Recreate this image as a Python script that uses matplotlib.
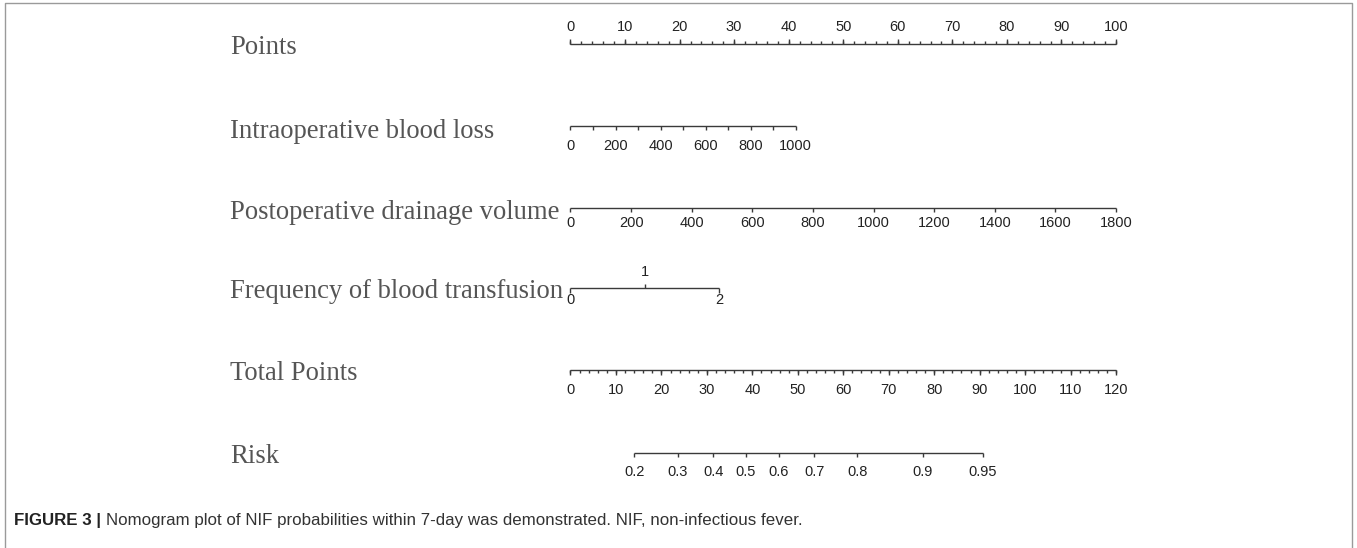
import numpy as np
import matplotlib
matplotlib.use('Agg')
import matplotlib.pyplot as plt
from matplotlib import font_manager
from matplotlib.transforms import blended_transform_factory

# 字型：左側標籤用襯線體，刻度用 Arial 類
plt.rcParams['font.family'] = ['Liberation Sans', 'DejaVu Sans']
_names = {f.name for f in font_manager.fontManager.ttflist}
CAPTION_FONT = 'Liberation Sans Narrow' if 'Liberation Sans Narrow' in _names else 'Liberation Sans'

# ---- 資料 (nomogram) ----
row_labels = ['Points', 'Intraoperative blood loss', 'Postoperative drainage volume',
              'Frequency of blood transfusion', 'Total Points', 'Risk']

points_major = [0, 10, 20, 30, 40, 50, 60, 70, 80, 90, 100]
points_minor = [0, 2, 4, 6, 8, 10, 12, 14, 16, 18, 20, 22, 24, 26, 28, 30, 32, 34, 36, 38, 40,
                42, 44, 46, 48, 50, 52, 54, 56, 58, 60, 62, 64, 66, 68, 70, 72, 74, 76, 78, 80,
                82, 84, 86, 88, 90, 92, 94, 96, 98, 100]

blood_loss_ticks = [0, 100, 200, 300, 400, 500, 600, 700, 800, 900, 1000]
blood_loss_labels = [0, 200, 400, 600, 800, 1000]
blood_loss_max = 1000
blood_loss_max_points = 41.3

drainage_ticks = [0, 200, 400, 600, 800, 1000, 1200, 1400, 1600, 1800]
drainage_max = 1800
drainage_max_points = 100

transfusion_values = [0, 1, 2]
transfusion_points = [0, 13.6, 27.2]

total_major = [0, 10, 20, 30, 40, 50, 60, 70, 80, 90, 100, 110, 120]
total_minor = [0, 2, 4, 6, 8, 10, 12, 14, 16, 18, 20, 22, 24, 26, 28, 30, 32, 34, 36, 38, 40,
               42, 44, 46, 48, 50, 52, 54, 56, 58, 60, 62, 64, 66, 68, 70, 72, 74, 76, 78, 80,
               82, 84, 86, 88, 90, 92, 94, 96, 98, 100, 102, 104, 106, 108, 110, 112, 114, 116,
               118, 120]
total_max = 120

risk_labels = [0.2, 0.3, 0.4, 0.5, 0.6, 0.7, 0.8, 0.9, 0.95]
lp_intercept = -2.18   # linear predictor = intercept + slope * total points
lp_slope = 0.0565

caption_bold = 'FIGURE 3 |'
caption_text = 'Nomogram plot of NIF probabilities within 7-day was demonstrated. NIF, non-infectious fever.'

# ---- 版面 ----
W, H = 1357, 548
AX_LEFT_PX, PX_PER_POINT = 570.5, 5.455
LABEL_X = 230 / W
LINE_C = '#3a3a3a'
TICK_C = '#222222'
TICK_FS = 10.5

fig = plt.figure(figsize=(W / 100, H / 100), dpi=100)
ax = fig.add_axes([0, 0, 1, 1])
ax.set_xlim(-AX_LEFT_PX / PX_PER_POINT, (W - AX_LEFT_PX) / PX_PER_POINT)
ax.set_ylim(H, 0)
ax.axis('off')
blend = blended_transform_factory(ax.transAxes, ax.transData)


def scale_axis(y, tick_pts, tick_len, label_pts=None, labels=None, label_dy=0, lw=1.0):
    ax.hlines(y, min(tick_pts), max(tick_pts), color=LINE_C, lw=lw)
    ax.vlines(tick_pts, y, y + tick_len, color=LINE_C, lw=lw)
    if labels is not None:
        for p, s in zip(label_pts, labels):
            ax.text(p, y + label_dy, s, ha='center', va='center', fontsize=TICK_FS, color=TICK_C)


def fmt(v):
    return f'{v:g}'


# Points
scale_axis(43.5, points_minor, -2.5)
ax.vlines(points_major, 43.5, 39.0, color=LINE_C, lw=1.0)
for p in points_major:
    ax.text(p, 27, fmt(p), ha='center', va='center', fontsize=TICK_FS, color=TICK_C)

# Intraoperative blood loss
bl_pts = [v / blood_loss_max * blood_loss_max_points for v in blood_loss_ticks]
bl_lab_pts = [v / blood_loss_max * blood_loss_max_points for v in blood_loss_labels]
scale_axis(126, bl_pts, 4, bl_lab_pts, [fmt(v) for v in blood_loss_labels], 20)

# Postoperative drainage volume
dr_pts = [v / drainage_max * drainage_max_points for v in drainage_ticks]
scale_axis(208, dr_pts, 4, dr_pts, [fmt(v) for v in drainage_ticks], 15)

# Frequency of blood transfusion
y_tr = 288
ax.hlines(y_tr, transfusion_points[0], transfusion_points[-1], color=LINE_C, lw=1.0)
for v, p in zip(transfusion_values, transfusion_points):
    if v == 1:
        ax.vlines(p, y_tr, y_tr - 4.5, color=LINE_C, lw=1.0)
        ax.text(p, y_tr - 16, fmt(v), ha='center', va='center', fontsize=TICK_FS, color=TICK_C)
    else:
        ax.vlines(p, y_tr, y_tr + 4.5, color=LINE_C, lw=1.0)
        ax.text(p, y_tr + 12, fmt(v), ha='center', va='center', fontsize=TICK_FS, color=TICK_C)

# Total Points
tp_to_pts = 100 / total_max
scale_axis(370, [t * tp_to_pts for t in total_minor], 2.5)
ax.vlines([t * tp_to_pts for t in total_major], 370, 374.5, color=LINE_C, lw=1.0)
for t in total_major:
    ax.text(t * tp_to_pts, 390, fmt(t), ha='center', va='center', fontsize=TICK_FS, color=TICK_C)

# Risk
risk_tp = [(np.log(r / (1 - r)) - lp_intercept) / lp_slope for r in risk_labels]
risk_pts = [t * tp_to_pts for t in risk_tp]
scale_axis(452.5, risk_pts, 4, risk_pts, [fmt(r) for r in risk_labels], 20)

# 左側變數名稱
label_baselines = [53.5, 138.5, 219, 298.5, 380, 463]
for s, yb in zip(row_labels, label_baselines):
    ax.text(LABEL_X, yb, s, transform=blend, family=['Liberation Serif', 'DejaVu Serif'],
            fontsize=19.2, color='#555555', va='baseline', ha='left')

# 外框
ax.plot([5 / W, 5 / W, 1352 / W, 1352 / W], [H + 5, 2.5, 2.5, H + 5], transform=blend,
        color='#9a9a9a', lw=1.0, clip_on=False)

# 圖說
t1 = ax.text(14 / W, 525, caption_bold, transform=blend, family=[CAPTION_FONT, 'DejaVu Sans'],
             fontsize=12.2, weight='bold', color='#222222', va='baseline')
fig.canvas.draw()
bb = t1.get_window_extent()
x2 = (bb.x1 + 5) / W
ax.text(x2, 525, caption_text, transform=blend, family=[CAPTION_FONT, 'DejaVu Sans'],
        fontsize=12.2, color='#333333', va='baseline')

fig.savefig('out.png', dpi=100)
